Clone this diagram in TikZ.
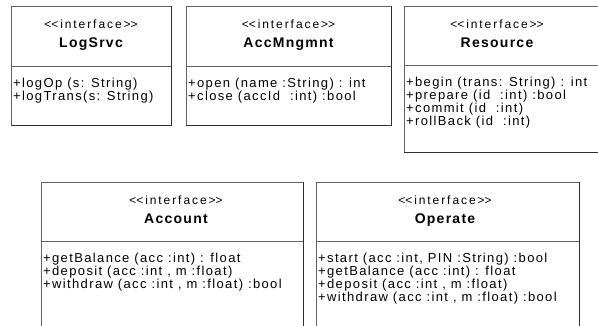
\documentclass[tikz,border=0pt]{standalone}
\usepackage{fontspec}
\setmainfont{Liberation Sans}
\newfontfamily\stereofont{Liberation Sans}[LetterSpace=16]
\newfontfamily\namefont{Liberation Sans}[LetterSpace=9]
\newfontfamily\methfont{Liberation Sans}[LetterSpace=10.5]

\tikzset{
  boxline/.style={draw=black!62, line width=0.9pt},
  boxshade/.style={draw=black!82, line width=1pt},
  stereo/.style={anchor=base, inner sep=0pt, font=\stereofont\fontsize{12}{14}\selectfont},
  ifname/.style={anchor=base, inner sep=0pt, font=\namefont\bfseries\fontsize{14}{16}\selectfont},
  method/.style={anchor=base west, inner sep=0pt, font=\methfont\fontsize{13}{13}\selectfont},
}

% An interface box: name, left, top, right, bottom, divider y, title centre x, title, operations
\newcommand\ifacebox[9]{%
  \node[boxline, rectangle, inner sep=0pt, outer sep=0pt, anchor=north west,
        minimum width=#4pt-#2pt, minimum height=#5pt-#3pt] (#1) at (#2,#3) {};
  \draw[boxshade] (#1.north east) -- (#1.south east) -- (#1.south west);
  \coordinate (#1-dl) at (#2,#6);
  \coordinate (#1-dr) at (#4,#6);
  \draw[boxline] (#1-dl) -- (#1-dr);
  \node[stereo] (#1-st) at (#7,#3+22) {<\kern0pt<interface>\kern0pt>};
  \node[ifname] (#1-nm) at (#7,#3+41) {#8};
  \foreach \op [count=\i] in {#9} {
    \node[method] (#1-op\i) at (#2+2,#6+8+13*\i) {\op};
  }%
}

\begin{document}
\begin{tikzpicture}[x=1pt, y=-1pt]
  \useasboundingbox (0,0) rectangle (598,325);
  \clip (0,0) rectangle (598,325);

  \ifacebox{logsrvc}{11}{6}{171}{125}{66}{91}{LogSrvc}
    {{+logOp (s: String)},{+logTrans(s: String)}}

  \ifacebox{accmngmnt}{186}{6}{391}{125}{66}{288.5}{AccMngmnt}
    {{+open (name :String) : int},{+close (accId\ \ :int) :bool}}

  \ifacebox{resource}{404}{6}{620}{152}{65}{497}{Resource}
    {{+begin (trans: String) : int},{+prepare (id\ \ :int) :bool},
     {+commit (id\ \ :int)},{+rollBack (id\ \ :int)}}

  \ifacebox{account}{41}{182}{303}{340}{241}{176}{Account}
    {{+getBalance (acc :int) : float},{+deposit (acc :int , m :float)},
     {+withdraw (acc :int , m :float) :bool}}

  \ifacebox{operate}{316}{182}{579}{340}{241}{445}{Operate}
    {{+start (acc :int, PIN :String) :bool},{+getBalance (acc :int) : float},
     {+deposit (acc :int , m :float)},{+withdraw (acc :int , m :float) :bool}}
\end{tikzpicture}
\end{document}
